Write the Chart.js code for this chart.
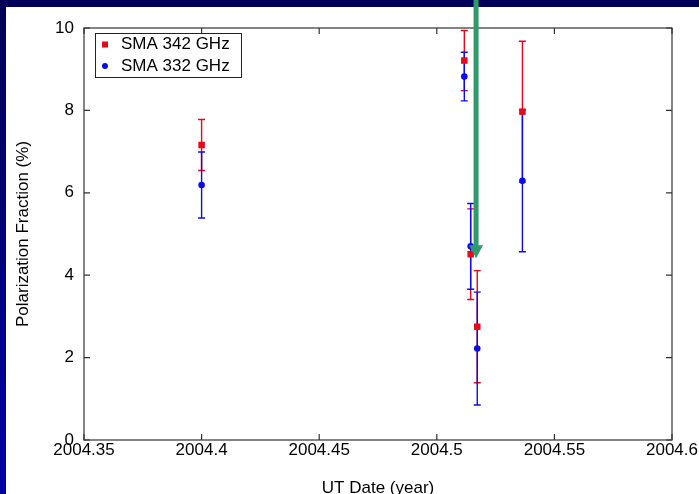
<!DOCTYPE html>
<html>
<head>
<meta charset="utf-8">
<script src="https://cdn.jsdelivr.net/npm/chart.js@4/dist/chart.umd.min.js"></script>
<style>
  html, body { margin: 0; padding: 0; background: #fff; }
  canvas { display: block; }
</style>
</head>
<body>
<canvas id="pol" width="699" height="494"></canvas>
<script>
// UT date (decimal year) and polarization fraction (%) with 1-sigma errors
var dates342 = [2004.4, 2004.5117, 2004.5144, 2004.5172, 2004.5364];
var frac342  = [7.16, 9.21, 4.51, 2.75, 7.97];
var err342   = [0.62, 0.73, 1.10, 1.36, 1.71];

var dates332 = [2004.4, 2004.5117, 2004.5144, 2004.5172, 2004.5364];
var frac332  = [6.19, 8.82, 4.70, 2.22, 6.29];
var err332   = [0.80, 0.59, 1.04, 1.37, 1.72];

var xTicks = [2004.35, 2004.4, 2004.45, 2004.5, 2004.55, 2004.6];
var yTicks = [0, 2, 4, 6, 8, 10];

// green arrow pointing at the flare date
var arrowDate = 2004.5167;
var arrowTip  = 4.41;

var red  = 'rgb(232, 8, 24)';
var blue = 'rgb(12, 12, 232)';
var green = '#2f9a6b';
var FONT = '"Liberation Sans", Arial, Helvetica, sans-serif';

function pts(xs, ys) {
	var out = [];
	for (var i = 0; i < xs.length; i++) out.push({ x: xs[i], y: ys[i] });
	return out;
}

// slide background: navy top band, blue left band, white page
var slideBg = {
	id: 'slideBg',
	beforeDraw: function (chart) {
		var ctx = chart.ctx, w = chart.width, h = chart.height;
		ctx.save();
		ctx.fillStyle = '#ffffff';
		ctx.fillRect(0, 0, w, h);
		var g = ctx.createLinearGradient(0, 0, 0, h);
		g.addColorStop(0, '#000058');
		g.addColorStop(1, '#0000a2');
		ctx.fillStyle = g;
		ctx.fillRect(0, 0, 6, h);
		ctx.fillStyle = '#000058';
		ctx.fillRect(0, 0, w, 7);
		ctx.restore();
	}
};

// frame with inward ticks on all four sides
var frame = {
	id: 'frame',
	afterDraw: function (chart) {
		var ctx = chart.ctx, a = chart.chartArea, x = chart.scales.x, y = chart.scales.y;
		ctx.save();
		ctx.strokeStyle = '#333';
		ctx.lineWidth = 1.2;
		ctx.strokeRect(a.left, a.top, a.right - a.left, a.bottom - a.top);
		ctx.beginPath();
		xTicks.forEach(function (v) {
			var px = x.getPixelForValue(v);
			ctx.moveTo(px, a.bottom); ctx.lineTo(px, a.bottom - 6);
			ctx.moveTo(px, a.top); ctx.lineTo(px, a.top + 6);
		});
		yTicks.forEach(function (v) {
			var py = y.getPixelForValue(v);
			ctx.moveTo(a.left, py); ctx.lineTo(a.left + 6, py);
			ctx.moveTo(a.right, py); ctx.lineTo(a.right - 6, py);
		});
		ctx.stroke();
		ctx.restore();
	}
};

// vertical error bars with caps, drawn under the markers
var errorBars = {
	id: 'errorBars',
	beforeDatasetsDraw: function (chart) {
		var ctx = chart.ctx, x = chart.scales.x, y = chart.scales.y;
		ctx.save();
		ctx.lineWidth = 1.4;
		chart.data.datasets.forEach(function (ds) {
			ctx.strokeStyle = ds.borderColor;
			ds.data.forEach(function (p, i) {
				var e = ds.errors[i];
				var px = x.getPixelForValue(p.x);
				var top = y.getPixelForValue(p.y + e);
				var bot = y.getPixelForValue(p.y - e);
				ctx.beginPath();
				ctx.moveTo(px, top); ctx.lineTo(px, bot);
				ctx.moveTo(px - 3.5, top); ctx.lineTo(px + 3.5, top);
				ctx.moveTo(px - 3.5, bot); ctx.lineTo(px + 3.5, bot);
				ctx.stroke();
			});
		});
		ctx.restore();
	}
};

// boxed legend in the upper left corner of the plot
var boxLegend = {
	id: 'boxLegend',
	afterDraw: function (chart) {
		var ctx = chart.ctx, a = chart.chartArea;
		var bx = a.left + 11, by = a.top + 5;
		ctx.save();
		ctx.fillStyle = '#fff';
		ctx.fillRect(bx, by, 146, 44);
		ctx.strokeStyle = '#222';
		ctx.lineWidth = 1;
		ctx.strokeRect(bx + 0.5, by + 0.5, 146, 44);
		ctx.font = '17px ' + FONT;
		ctx.textBaseline = 'middle';
		chart.data.datasets.forEach(function (ds, i) {
			var cy = by + 11.5 + i * 21.5;
			ctx.fillStyle = ds.backgroundColor;
			if (ds.pointStyle === 'rect') {
				ctx.fillRect(bx + 7, cy - 3, 6, 6);
			} else {
				ctx.beginPath();
				ctx.arc(bx + 10, cy, 3, 0, Math.PI * 2);
				ctx.fill();
			}
			ctx.fillStyle = '#000';
			ctx.fillText(ds.label, bx + 26, cy);
		});
		ctx.restore();
	}
};

// annotation arrow from the top of the slide
var arrow = {
	id: 'arrow',
	afterDraw: function (chart) {
		var ctx = chart.ctx, x = chart.scales.x, y = chart.scales.y;
		var px = x.getPixelForValue(arrowDate);
		var tip = y.getPixelForValue(arrowTip);
		ctx.save();
		ctx.fillStyle = green;
		ctx.fillRect(px - 2.5, 0, 5, tip - 12);
		ctx.beginPath();
		ctx.moveTo(px - 7, tip - 13);
		ctx.lineTo(px + 7, tip - 13);
		ctx.lineTo(px, tip);
		ctx.closePath();
		ctx.fill();
		ctx.restore();
	}
};

new Chart(document.getElementById('pol').getContext('2d'), {
	type: 'scatter',
	data: {
		datasets: [
			{
				label: 'SMA 342 GHz',
				data: pts(dates342, frac342),
				errors: err342,
				pointStyle: 'rect',
				pointRadius: 4.6,
				pointBorderWidth: 0,
				backgroundColor: red,
				borderColor: red
			},
			{
				label: 'SMA 332 GHz',
				data: pts(dates332, frac332),
				errors: err332,
				pointStyle: 'circle',
				pointRadius: 3.3,
				pointBorderWidth: 0,
				backgroundColor: blue,
				borderColor: blue
			}
		]
	},
	options: {
		responsive: false,
		animation: false,
		devicePixelRatio: 1,
		layout: { padding: { top: 28, right: 27, left: 0, bottom: 0 } },
		plugins: {
			legend: { display: false },
			tooltip: { enabled: false }
		},
		scales: {
			x: {
				type: 'linear',
				min: 2004.35,
				max: 2004.6,
				grid: { display: false, drawTicks: false },
				border: { display: false },
				afterBuildTicks: function (s) { s.ticks = xTicks.map(function (v) { return { value: v }; }); },
				afterFit: function (s) { s.height = 54; },
				ticks: {
					padding: 0,
					color: '#000',
					maxRotation: 0,
					font: { family: FONT, size: 17 },
					callback: function (v) { return String(Math.round(v * 100) / 100); }
				},
				title: {
					display: true,
					text: 'UT Date (year)',
					color: '#000',
					padding: { bottom: -5 },
					font: { family: FONT, size: 17 }
				}
			},
			y: {
				min: 0,
				max: 10,
				grid: { display: false, drawTicks: false },
				border: { display: false },
				afterBuildTicks: function (s) { s.ticks = yTicks.map(function (v) { return { value: v }; }); },
				afterFit: function (s) { s.width = 84; },
				ticks: {
					padding: 10,
					color: '#000',
					font: { family: FONT, size: 17 }
				},
				title: {
					display: true,
					text: 'Polarization Fraction (%)',
					color: '#000',
					padding: { top: 13 },
					font: { family: FONT, size: 17 }
				}
			}
		}
	},
	plugins: [slideBg, errorBars, frame, boxLegend, arrow]
});
</script>
</body>
</html>
